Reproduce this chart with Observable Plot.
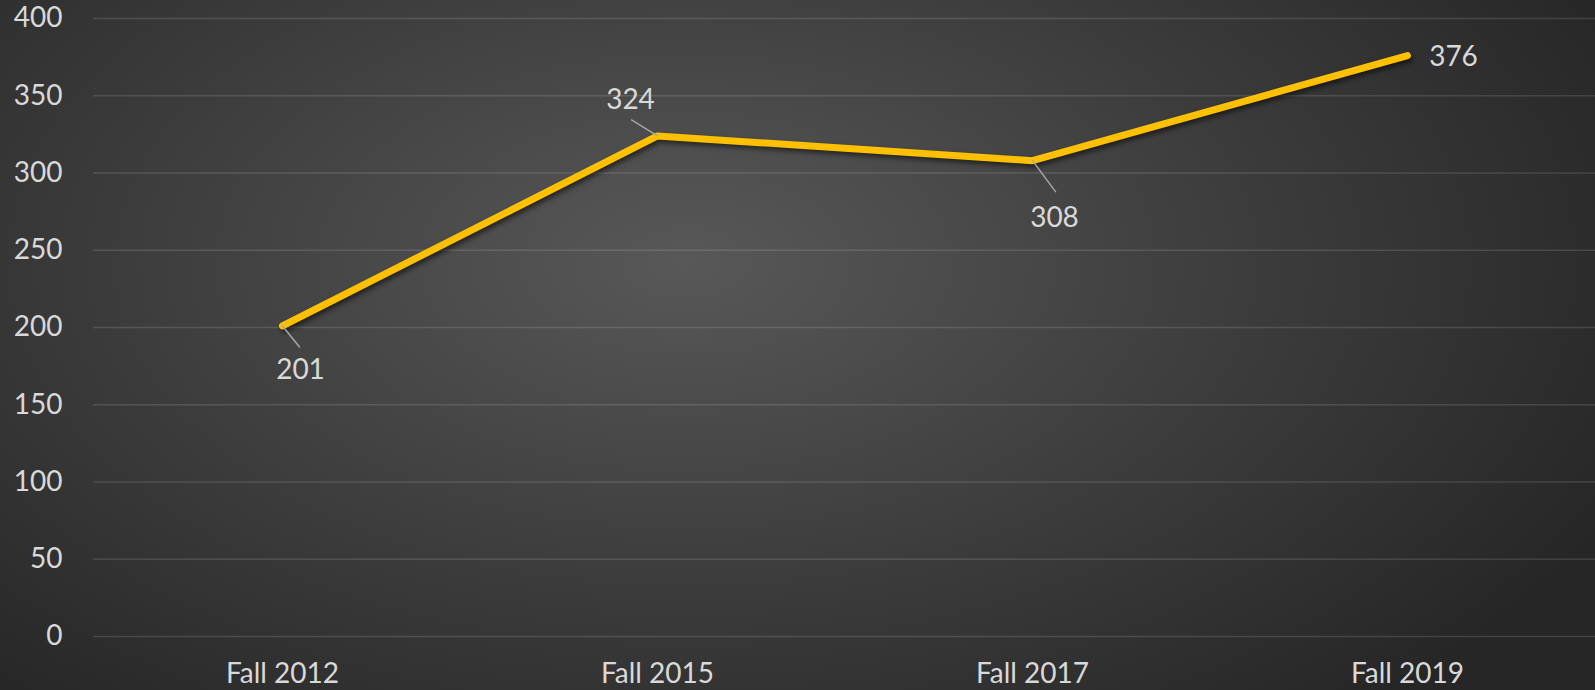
<!DOCTYPE html>
<html><head><meta charset="utf-8">
<script src="https://cdn.jsdelivr.net/npm/d3@7"></script>
<script src="https://cdn.jsdelivr.net/npm/@observablehq/plot@0.6"></script>
<style>
html,body{margin:0;padding:0;background:#262626;}
#chart svg{display:block;}
#chart g[aria-label="line"] path{filter:drop-shadow(2px 3px 2.5px rgba(0,0,0,0.55));}
</style></head><body><div id="chart"></div>
<script>
const terms = ["Fall 2012", "Fall 2015", "Fall 2017", "Fall 2019"];
const students = [201, 324, 308, 376];
const yTicks = [0, 50, 100, 150, 200, 250, 300, 350, 400];

const data = terms.map((t, i) => ({term: t, value: students[i]}));

// label placement (pixel offsets from the point) and leader line vectors
const placement = [
  {dx: 18, dy: 44, leader: [17, 21]},
  {dx: -27, dy: -36, leader: [-26, -16]},
  {dx: 22, dy: 57, leader: [23, 31]},
  {dx: 46, dy: 1, leader: null}
];

const font = "Lato, 'Open Sans', sans-serif";
const textColor = "#d9d9d9";

const labelMarks = [];
data.forEach((d, i) => {
  const p = placement[i];
  if (p.leader) {
    const [lx, ly] = p.leader;
    labelMarks.push(Plot.vector([d], {
      x: "term", y: "value",
      length: Math.hypot(lx, ly),
      rotate: Math.atan2(lx, -ly) * 180 / Math.PI,
      anchor: "start",
      shape: {draw(ctx, l) { ctx.moveTo(0, 0); ctx.lineTo(0, -l); }},
      stroke: "#a6a6a6", strokeWidth: 1.5
    }));
  }
  labelMarks.push(Plot.text([d], {
    x: "term", y: "value", text: dd => String(dd.value),
    dx: p.dx, dy: p.dy, fontSize: 28, fill: textColor
  }));
});

const chart = Plot.plot({
  width: 1595,
  height: 690,
  marginLeft: 93,
  marginRight: 0,
  marginTop: 18,
  marginBottom: 54,
  style: {
    fontFamily: font,
    background: "radial-gradient(ellipse 65% 85% at 43% 38%, #585858 0%, #3c3c3c 55%, #262626 100%)",
    color: textColor
  },
  x: {type: "point", domain: terms, padding: 0.5, label: null},
  y: {domain: [0, 400], label: null},
  marks: [
    Plot.ruleY(yTicks, {stroke: "#ffffff", strokeOpacity: 0.13, strokeWidth: 1.5}),
    Plot.axisY(yTicks, {tickSize: 0, tickPadding: 31, fontSize: 28, fill: textColor, label: null}),
    Plot.axisX({tickSize: 0, tickPadding: 27, fontSize: 28, fill: textColor, label: null}),
    Plot.line(data, {x: "term", y: "value", stroke: "#ffc000", strokeWidth: 7, strokeLinecap: "round", strokeLinejoin: "round"}),
    ...labelMarks
  ]
});
document.getElementById("chart").appendChild(chart);
</script>
</body></html>
